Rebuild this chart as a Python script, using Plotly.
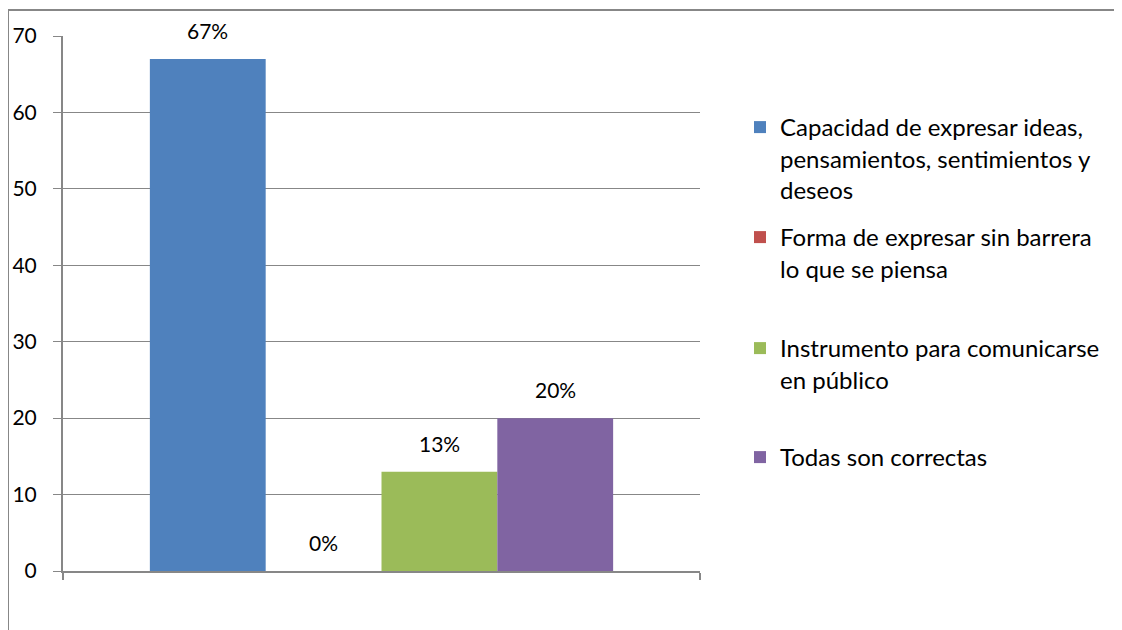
import plotly.graph_objects as go

series_names = [
    "Capacidad de expresar ideas,<br>pensamientos, sentimientos y<br>deseos",
    "Forma de expresar sin barrera<br>lo que se piensa",
    "Instrumento para comunicarse<br>en público",
    "Todas son correctas",
]
values = [67, 0, 13, 20]
labels = ["67%", "0%", "13%", "20%"]
colors = ["#4F81BD", "#C0504D", "#9BBB59", "#8064A2"]
positions = [0, 1, 2, 3]

FONT = "Lato, Carlito, Calibri, sans-serif"
GRID = "#878787"

# page offset of the figure (body margin)
OFF = 8
W, H = 1122, 630
L, T = 63 - OFF, 36 - OFF
pw, ph = 637, 535
R = W - L - pw
B = H - T - ph

def px_x(px):
    return (px - OFF - L) / pw

def px_y(py):
    return (H - B - (py - OFF)) / ph

fig = go.Figure()
legend_ys = [127, 237, 348, 457]
for i, (name, v, c, p) in enumerate(zip(series_names, values, colors, positions)):
    lg = "legend" if i == 0 else f"legend{i+1}"
    fig.add_trace(go.Bar(
        x=[p], y=[v], width=1, name=name, marker=dict(color=c, line=dict(width=0)),
        legend=lg, showlegend=True, hoverinfo="skip",
    ))
    fig.add_annotation(x=p, y=v, text=labels[i], showarrow=False, yanchor="bottom",
                       yshift=14, font=dict(family=FONT, size=21, color="#000000"))

legend_common = dict(font=dict(family=FONT, size=24, color="#000000"), bgcolor="rgba(0,0,0,0)",
                     xanchor="left", yanchor="top", valign="top", itemwidth=30,
                     tracegroupgap=0)
layout_legends = {}
for i, ly in enumerate(legend_ys):
    key = "legend" if i == 0 else f"legend{i+1}"
    layout_legends[key] = dict(legend_common, x=px_x(740), y=px_y(ly - 22))

fig.update_layout(
    width=W, height=H,
    margin=dict(l=L, r=R, t=T, b=B, pad=0, autoexpand=False),
    paper_bgcolor="#FFFFFF", plot_bgcolor="#FFFFFF",
    barmode="overlay",
    showlegend=True,
    xaxis=dict(range=[-1.25, 4.25], showgrid=False, zeroline=False, showline=True,
               linecolor=GRID, linewidth=2, ticks="outside", ticklen=7, tickcolor=GRID,
               tickwidth=2, tickvals=[-1.25, 4.25], showticklabels=False, fixedrange=True,
               automargin=False),
    yaxis=dict(range=[0, 70], dtick=10, tick0=0, showgrid=True, gridcolor=GRID, gridwidth=1,
               zeroline=False, showline=True, linecolor=GRID, linewidth=2,
               ticks="outside", ticklen=8, tickcolor=GRID, tickwidth=1,
               ticklabelstandoff=12, automargin=False,
               tickfont=dict(family=FONT, size=21, color="#000000"), fixedrange=True),
    **layout_legends,
)

fig.add_shape(type="rect", xref="paper", yref="paper",
              x0=px_x(8), x1=px_x(1121), y0=px_y(660), y1=px_y(10),
              line=dict(color=GRID, width=2), fillcolor="rgba(0,0,0,0)", layer="below")

fig.write_html("out.html")
